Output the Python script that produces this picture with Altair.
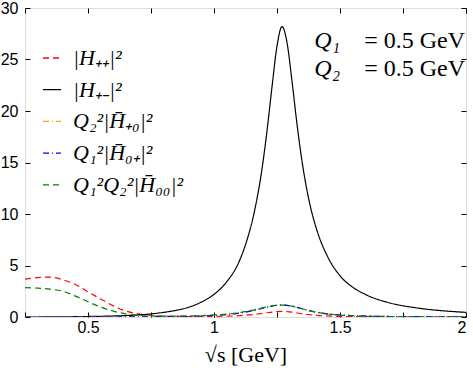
import altair as alt
import pandas as pd

# sqrt(s) grid in GeV
s_vals = [0.25, 0.30, 0.35, 0.40, 0.45, 0.50, 0.55, 0.60, 0.65, 0.70, 0.75, 0.80,
          0.85, 0.90, 0.95, 1.00, 1.05, 1.10, 1.13, 1.16, 1.19, 1.21, 1.23, 1.25,
          1.27, 1.29, 1.31, 1.33, 1.35, 1.38, 1.41, 1.45, 1.50, 1.55, 1.60, 1.70,
          1.80, 1.90, 2.00]

h_pp = [3.68, 3.82, 3.88, 3.62, 3.15, 2.45, 1.75, 1.08, 0.58, 0.30, 0.16, 0.09,
        0.06, 0.05, 0.05, 0.06, 0.08, 0.13, 0.18, 0.25, 0.34, 0.41, 0.48, 0.53,
        0.55, 0.53, 0.47, 0.39, 0.31, 0.22, 0.15, 0.10, 0.06, 0.04, 0.03, 0.02,
        0.01, 0.01, 0.01]

h_pm = [0.00, 0.00, 0.01, 0.02, 0.03, 0.05, 0.07, 0.10, 0.14, 0.20, 0.30, 0.45,
        0.65, 0.95, 1.45, 2.20, 3.40, 5.40, 7.40, 10.2, 14.3, 18.0, 22.3, 26.3,
        28.2, 26.6, 22.8, 18.6, 15.0, 11.0, 8.30, 5.90, 4.00, 2.90, 2.20, 1.35,
        0.90, 0.62, 0.45]

h_p0 = [0.00, 0.00, 0.00, 0.00, 0.00, 0.00, 0.00, 0.00, 0.01, 0.01, 0.02, 0.03,
        0.05, 0.07, 0.10, 0.16, 0.24, 0.38, 0.50, 0.66, 0.84, 0.96, 1.07, 1.14,
        1.16, 1.13, 1.05, 0.93, 0.80, 0.60, 0.45, 0.30, 0.19, 0.13, 0.09, 0.05,
        0.03, 0.02, 0.02]

h_0p = [0.00, 0.00, 0.00, 0.00, 0.00, 0.00, 0.00, 0.00, 0.01, 0.01, 0.02, 0.03,
        0.05, 0.07, 0.10, 0.16, 0.24, 0.38, 0.50, 0.66, 0.84, 0.96, 1.07, 1.14,
        1.16, 1.13, 1.05, 0.93, 0.80, 0.60, 0.45, 0.30, 0.19, 0.13, 0.09, 0.05,
        0.03, 0.02, 0.02]

h_00 = [2.85, 2.80, 2.70, 2.50, 2.03, 1.48, 0.97, 0.57, 0.30, 0.16, 0.10, 0.08,
        0.08, 0.10, 0.14, 0.20, 0.28, 0.42, 0.55, 0.70, 0.87, 0.98, 1.08, 1.14,
        1.16, 1.13, 1.05, 0.93, 0.80, 0.60, 0.45, 0.30, 0.19, 0.13, 0.09, 0.05,
        0.03, 0.02, 0.02]

curve_names = ["|H₊₊|²", "|H₊₋|²", "Q₂²|H̄₊₀|²", "Q₁²|H̄₀₊|²", "Q₁²Q₂²|H̄₀₀|²"]
curve_colors = ["#ff0000", "#000000", "#ffa500", "#0000ff", "#008000"]
curve_dashes = [[6, 4], [1, 0], [6, 3, 1, 3], [6, 3, 1, 3], [6, 4]]

x_ticks = [0.25, 0.5, 0.75, 1.0, 1.25, 1.5, 1.75, 2.0]
y_ticks = [0, 2.5, 5, 7.5, 10, 12.5, 15, 17.5, 20, 22.5, 25, 27.5, 30]

# kinematic setting printed in the upper right corner
q_names = ["Q₁", "Q₂"]
q_rest = ["= 0.5 GeV", "= 0.5 GeV"]
q_rows = [26.1, 23.4]

rows = []
for name, vals in zip(curve_names, [h_pp, h_pm, h_p0, h_0p, h_00]):
    for s, v in zip(s_vals, vals):
        rows.append({"s": s, "v": v, "curve": name})
df = pd.DataFrame(rows)

W, H = 441, 309
xscale = alt.Scale(domain=[0.25, 2.0], nice=False, zero=False)
yscale = alt.Scale(domain=[0, 30], nice=False)

legend = alt.Legend(
    title=None, orient="none", legendX=16, legendY=39,
    symbolType="stroke", symbolSize=324, symbolStrokeWidth=1.3,
    labelFont="Liberation Serif", labelFontSize=22, labelFontStyle="italic",
    labelColor="black", labelOffset=10, rowPadding=9.7, padding=0,
    labelLimit=300,
)

lines = alt.Chart(df).mark_line(strokeWidth=1.2, interpolate="monotone", clip=True).encode(
    x=alt.X("s:Q", scale=xscale, axis=alt.Axis(
        values=x_ticks, format="~g",
        labelExpr="datum.value % 0.5 == 0 ? datum.label : ''",
        title="√s [GeV]", titleFont="Liberation Serif", titleFontSize=22,
        titleFontWeight="normal", titleColor="black", titlePadding=9,
        labelFont="Liberation Sans", labelFontSize=16, labelColor="black",
        labelPadding=2, ticks=False, domain=False,
        grid=True, gridColor="black", gridOpacity=1, gridWidth=1,
        gridDash=[5, H - 10, 5],
    )),
    y=alt.Y("v:Q", scale=yscale, axis=alt.Axis(
        values=y_ticks, format="~g",
        labelExpr="datum.value % 5 == 0 ? datum.label : ''",
        title=None,
        labelFont="Liberation Sans", labelFontSize=16, labelColor="black",
        labelPadding=7, ticks=False, domain=False,
        grid=True, gridColor="black", gridOpacity=1, gridWidth=1,
        gridDash=[5, W - 10, 5],
    )),
    color=alt.Color("curve:N", scale=alt.Scale(domain=curve_names, range=curve_colors), legend=legend),
    strokeDash=alt.StrokeDash("curve:N", scale=alt.Scale(domain=curve_names, range=curve_dashes), legend=legend),
)

qdf = pd.DataFrame({"name": q_names, "rest": q_rest, "row": q_rows,
                    "xl": [1.398, 1.398], "xr": [2.0, 2.0]})

q_sym = alt.Chart(qdf).mark_text(
    font="Liberation Serif", fontSize=24, fontStyle="italic", align="left",
    baseline="alphabetic", color="black",
).encode(x=alt.X("xl:Q", scale=xscale), y=alt.Y("row:Q", scale=yscale), text="name:N")

q_txt = alt.Chart(qdf).mark_text(
    font="Liberation Serif", fontSize=24, align="right",
    baseline="alphabetic", color="black", dx=-1,
).encode(x=alt.X("xr:Q", scale=xscale), y=alt.Y("row:Q", scale=yscale), text="rest:N")

chart = alt.layer(lines, q_sym, q_txt).properties(
    width=W, height=H,
    autosize=alt.AutoSizeParams(type="none"),
    padding={"left": 25, "top": 8, "right": 7, "bottom": 56},
).configure_view(stroke="black", strokeWidth=1).configure(background="white")

chart.save("out.html", embed_options={"renderer": "svg", "actions": False})
